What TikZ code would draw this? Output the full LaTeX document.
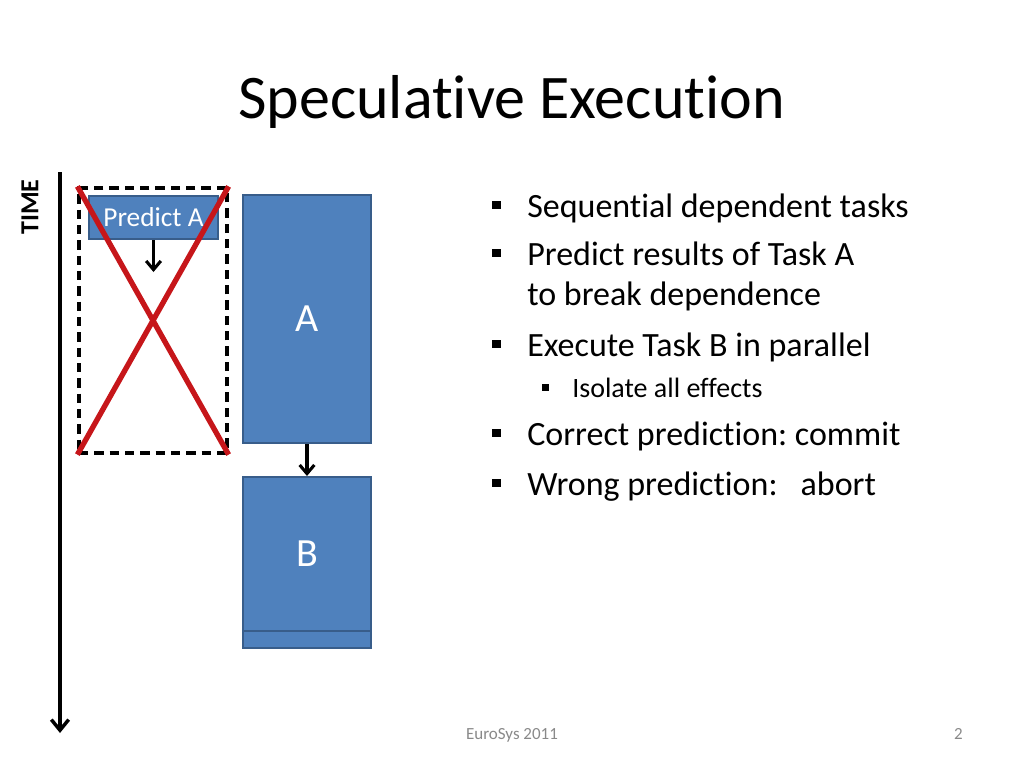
\documentclass[tikz,border=0pt]{standalone}
\usepackage{fontspec}
\setmainfont{Carlito}[Ligatures=NoCommon]
\usetikzlibrary{arrows.meta}
\frenchspacing

\definecolor{taskblue}{RGB}{79,129,189}
\definecolor{taskedge}{RGB}{56,93,138}
\definecolor{crossred}{RGB}{198,22,26}
\definecolor{footgray}{RGB}{137,137,137}

\tikzset{
  task/.style={draw=taskedge, fill=taskblue, line width=1.5pt, inner sep=0pt, text=white},
  flow/.style={line width=2.3pt, -{Straight Barb[length=6.5pt,width=11pt]}},
  bullet/.style={anchor=base west, inner sep=0pt, font=\fontsize{25.5}{30}\selectfont},
  subbullet/.style={anchor=base west, inner sep=0pt, font=\fontsize{21}{25}\selectfont},
}

\begin{document}
\begin{tikzpicture}[x=0.75pt, y=-0.75pt]
    \useasboundingbox (0,0) rectangle (1024,768);

    % title
    \node[anchor=base, inner sep=0pt, font=\fontsize{46.5}{56}\selectfont] (title) at (511.5,118) {Speculative Execution};

    % time axis
    \coordinate (t0) at (60,172);
    \coordinate (t1) at (60,733);
    \draw[line width=2.6pt, -{Straight Barb[length=8pt,width=13pt]}] (t0) -- (t1);
    \node[rotate=90, inner sep=0pt, font=\bfseries\fontsize{19.5}{23}\selectfont] (time) at (30,207) {TIME};

    % cancelled speculation
    \node[draw, dashed, dash pattern=on 7pt off 4.5pt, line width=2.4pt, inner sep=0pt,
          minimum width=111pt, minimum height=198.75pt] (spec) at (153,320.5) {};
    \node[task, minimum width=96.75pt, minimum height=32.25pt, font=\fontsize{20.5}{24}\selectfont] (pa) at (153.5,217.5) {Predict A};
    \coordinate (paend) at (153.5,272);
    \draw[flow] (pa.south) -- (paend);

    % tasks
    \node[task, minimum width=96pt, minimum height=186pt, font=\fontsize{30}{36}\selectfont] (A) at (307,319) {A};
    \node[task, minimum width=96pt, minimum height=115.5pt, font=\fontsize{30}{36}\selectfont] (B) at (307,554) {B};
    \node[task, minimum width=96pt, minimum height=12.75pt] (btail) at (307,639.5) {};
    \draw[flow] (A.south) -- (B.north);

    % the red cross
    \draw[crossred, line width=4pt] (spec.north west) -- (spec.south east);
    \draw[crossred, line width=4pt] (spec.north east) -- (spec.south west);

    % bullets
    \foreach \y/\name/\txt in {217/b1/{Sequential dependent tasks},
                               265/b2/{Predict results of Task A},
                               356/b3/{Execute Task B in parallel},
                               445/b4/{Correct prediction: commit},
                               495/b5/{Wrong prediction:~~ abort}} {
      \fill (492,\y-16.5) rectangle ++(8.5,8.5);
      \node[bullet] (\name) at (527,\y) {\txt};
    }
    \node[bullet] (b2b) at (527,305) {to break dependence};
    \fill (542,384) rectangle ++(7,7);
    \node[subbullet] (b3a) at (572,397) {Isolate all effects};

    % footer
    \node[anchor=base, inner sep=0pt, text=footgray, font=\fontsize{12.75}{15}\selectfont] (foot) at (512,739) {EuroSys 2011};
    \node[anchor=base east, inner sep=0pt, text=footgray, font=\fontsize{12.75}{15}\selectfont] (pnum) at (963,739) {2};
\end{tikzpicture}
\end{document}
